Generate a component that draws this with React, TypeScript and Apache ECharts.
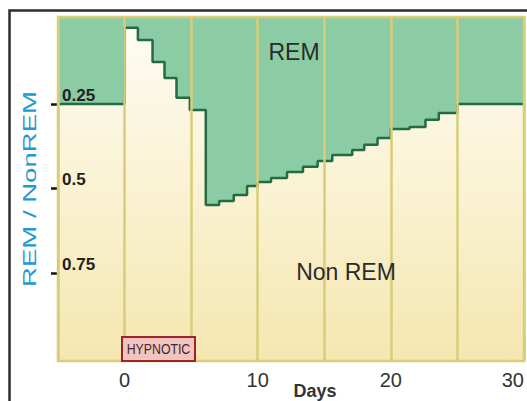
import React, { useEffect, useRef } from "react";
import * as echarts from "echarts";

// Day at which each step starts, and REM share (fraction of sleep, 0 at top)
const days = [-5, 0, 1, 2.1, 3, 3.9, 4.9, 6.1, 7.1, 8.2, 9.2, 10, 11, 12.2, 13.4, 14.5, 15.6, 17.1, 18, 19, 20, 21.4, 22.6, 23.6, 25, 30];
const remShare = [0.25, 0.025, 0.061, 0.126, 0.173, 0.232, 0.268, 0.549, 0.537, 0.519, 0.493, 0.481, 0.469, 0.451, 0.436, 0.419, 0.401, 0.386, 0.371, 0.351, 0.324, 0.318, 0.297, 0.277, 0.25, 0.25];
const xTickLabels = [0, 10, 20, 30];
const yTickLabels = [0.25, 0.5, 0.75];

const FONT = "'Liberation Sans', Arial, Helvetica, sans-serif";

export default function App() {
  const ref = useRef<HTMLDivElement>(null);
  useEffect(() => {
    document.body.style.margin = "0";
    const chart = echarts.init(ref.current!, null, { renderer: "svg" });
    const data = days.map((d, i) => [d, remShare[i]]);
    const cream = new echarts.graphic.LinearGradient(0, 0, 0, 1, [
      { offset: 0, color: "#fefcf3" },
      { offset: 1, color: "#f5e7b0" },
    ]);
    chart.setOption({
      animation: false,
      backgroundColor: "#ffffff",
      grid: {
        left: 58,
        right: 3,
        top: 17,
        bottom: 40,
        containLabel: false,
        outerBoundsMode: "none",
      },
      xAxis: {
        type: "value",
        min: -5,
        max: 30,
        interval: 5,
        z: 10,
        axisLine: { show: false, onZero: false },
        axisTick: { show: false },
        axisLabel: {
          customValues: xTickLabels,
          alignMaxLabel: "right",
          margin: 9,
          fontSize: 20,
          color: "#333333",
          fontFamily: FONT,
        },
        splitLine: { show: true, lineStyle: { color: "#d9cc7a", width: 2.5 } },
      },
      yAxis: {
        type: "value",
        inverse: true,
        min: -0.007,
        max: 1.01,
        z: 10,
        axisLine: { show: false, onZero: false },
        axisTick: {
          show: true,
          customValues: yTickLabels,
          length: 7,
          lineStyle: { color: "#111111", width: 2.5 },
        },
        axisLabel: {
          customValues: yTickLabels,
          inside: true,
          margin: 4,
          verticalAlign: "bottom",
          fontSize: 17,
          fontWeight: "bold",
          color: "#222222",
          fontFamily: FONT,
        },
        splitLine: { show: false },
      },
      series: [
        {
          type: "line",
          step: "end",
          data,
          symbol: "none",
          z: 1,
          lineStyle: { width: 0 },
          areaStyle: { origin: "end", color: cream, opacity: 1 },
        },
        {
          type: "line",
          step: "end",
          data,
          symbol: "none",
          z: 2,
          lineStyle: { color: "#236b42", width: 2.5 },
          areaStyle: { origin: "start", color: "#8ccca4", opacity: 1 },
        },
      ],
      graphic: [
        {
          type: "rect",
          silent: true,
          z: 100,
          shape: { x: 58, y: 17, width: 466, height: 344 },
          style: { fill: "none", stroke: "#d9cc7a", lineWidth: 2.5 },
        },
        {
          type: "rect",
          silent: true,
          z: 100,
          shape: { x: 9.5, y: 10.5, width: 560, height: 430 },
          style: { fill: "none", stroke: "#2d2d2d", lineWidth: 2.5 },
        },
        {
          type: "rect",
          silent: true,
          z: 101,
          shape: { x: 122, y: 337, width: 73, height: 24 },
          style: { fill: "#f3c3c1", stroke: "#9c2427", lineWidth: 2 },
        },
        {
          type: "text",
          silent: true,
          z: 102,
          x: 158.5,
          y: 349.5,
          scaleX: 0.82,
          style: {
            text: "HYPNOTIC",
            font: `15px ${FONT}`,
            fill: "#3b2b2b",
            align: "center",
            verticalAlign: "middle",
          },
        },
        {
          type: "text",
          silent: true,
          z: 102,
          x: 294,
          y: 52,
          style: {
            text: "REM",
            font: `23px ${FONT}`,
            fill: "#2b2b2b",
            align: "center",
            verticalAlign: "middle",
          },
        },
        {
          type: "text",
          silent: true,
          z: 102,
          x: 346,
          y: 272,
          style: {
            text: "Non REM",
            font: `23px ${FONT}`,
            fill: "#2b2b2b",
            align: "center",
            verticalAlign: "middle",
          },
        },
        {
          type: "text",
          silent: true,
          z: 102,
          x: 315,
          y: 391,
          style: {
            text: "Days",
            font: `bold 18px ${FONT}`,
            fill: "#333333",
            align: "center",
            verticalAlign: "middle",
          },
        },
        {
          type: "text",
          silent: true,
          z: 102,
          x: 30,
          y: 189,
          rotation: Math.PI / 2,
          scaleX: 1.45,
          style: {
            text: "REM / NonREM",
            font: `19px ${FONT}`,
            fill: "#2399d4",
            align: "center",
            verticalAlign: "middle",
          },
        },
      ],
    });
    return () => chart.dispose();
  }, []);
  return (
    <div
      ref={ref}
      style={{ position: "absolute", left: 0, top: 0, width: 527, height: 401 }}
    />
  );
}
